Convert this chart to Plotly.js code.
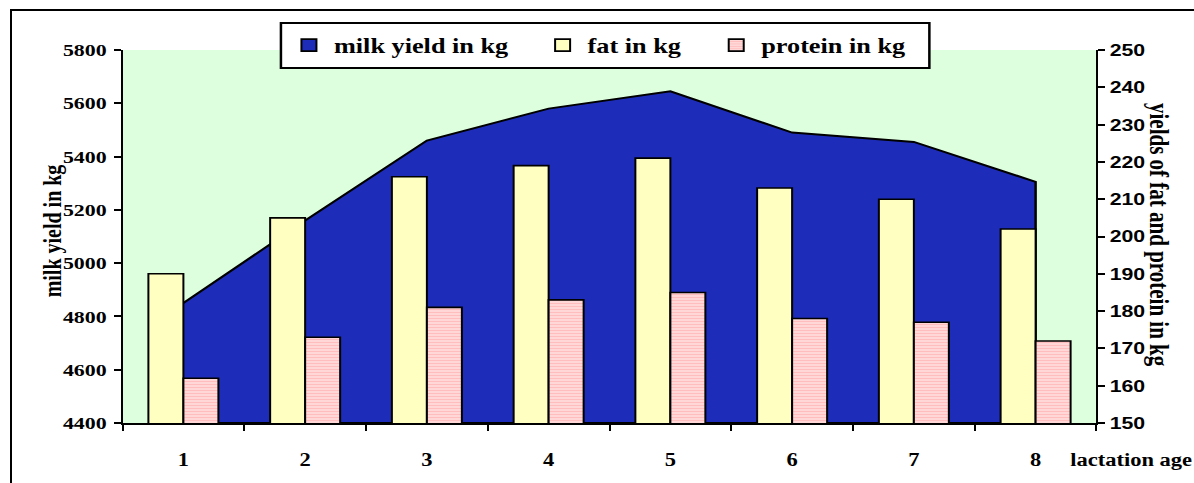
<!DOCTYPE html>
<html>
<head>
<meta charset="utf-8">
<script src="https://cdn.plot.ly/plotly-3.0.1.min.js"></script>
<style>
  html, body { margin: 0; padding: 0; background: #fff; overflow: hidden; width: 1194px; height: 483px; }
  #chart { position: absolute; left: 0; top: 0; width: 955px; height: 483px; transform: scaleX(1.250262); transform-origin: 0 0; }
  #frame { position: absolute; left: 10px; top: 9px; width: 1400px; height: 700px; border: 2px solid #000; pointer-events: none; z-index: 5; background: transparent; }
</style>
</head>
<body>
<div id="chart"></div>
<div id="frame"></div>
<script>
// ---- data ----
const categories = ['1', '2', '3', '4', '5', '6', '7', '8'];
const milkYield = [4850, 5160, 5460, 5580, 5645, 5490, 5455, 5305];
const fatYield = [190, 205, 216, 219, 221, 213, 210, 202];
const proteinYield = [162, 173, 181, 183, 185, 178, 177, 172];
const milkRange = [4400, 5800];
const fpRange = [150, 250];
const seriesNames = ['milk yield in kg', 'fat in kg', 'protein in kg'];
const leftTitle = 'milk yield in kg';
const rightTitle = 'yields of fat and protein in kg';
const xTitle = 'lactation age';

// ---- geometry (pre-stretch px) ----
const W = 955, H = 483;
const S = 1194 / W;
const plotL = 122.7 / S, plotR = 1096 / S;
const mT = 50, mB = 60;
const plotW = plotR - plotL, plotH = H - mT - mB;
const px = fx => (fx / S - plotL) / plotW;      // final-pixel x -> paper
const py = fy => (H - mB - fy) / plotH;          // pixel y -> paper

const serif = 'Liberation Serif, Times New Roman, serif';
const sans = 'Liberation Sans, Arial, sans-serif';
const BLUE = '#1e2db9', FAT = '#ffffc2', GREEN = '#ddffdd';

const traces = [
  { // milk yield area (outlined polygon down to axis floor)
    type: 'scatter', mode: 'lines',
    x: categories.concat([categories[categories.length - 1], categories[0]]),
    y: milkYield.concat([milkRange[0], milkRange[0]]),
    fill: 'toself', fillcolor: BLUE,
    line: { color: '#000', width: 2 },
    yaxis: 'y', showlegend: false, hoverinfo: 'skip'
  },
  { // legend key for milk yield (no drawn bar)
    type: 'bar', x: [categories[0]], y: [null], yaxis: 'y', name: seriesNames[0],
    marker: { color: BLUE, line: { color: '#000', width: 1.6 } },
    legend: 'legend', showlegend: true
  },
  {
    type: 'bar', x: categories, y: fatYield, yaxis: 'y2', name: seriesNames[1],
    marker: { color: FAT, line: { color: '#000', width: 1.6 } },
    legend: 'legend2'
  },
  {
    type: 'bar', x: categories, y: proteinYield, yaxis: 'y2', name: seriesNames[2],
    marker: { color: '#ffd6d6', line: { color: '#000', width: 1.6 },
      pattern: { shape: '-', bgcolor: '#ffdcdc', fgcolor: '#ff9e9e', size: 3, solidity: 0.45, fillmode: 'overlay' } },
    legend: 'legend3'
  }
];

const legFont = { family: serif, size: 21, weight: 700, color: '#000' };
const legBase = { orientation: 'h', xanchor: 'left', yanchor: 'middle', bgcolor: 'rgba(0,0,0,0)', borderwidth: 0, font: legFont, y: py(45.5) };
const titleFont = sz => ({ family: serif, size: sz, weight: 700, color: '#000' });

const layout = {
  width: W, height: H,
  margin: { l: plotL, r: W - plotR, t: mT, b: mB, autoexpand: false },
  paper_bgcolor: '#ffffff', plot_bgcolor: GREEN,
  barmode: 'group', bargap: 0.425, bargroupgap: 0,
  showlegend: true,
  legend: Object.assign({}, legBase, { x: px(318 - 34) }),
  legend2: Object.assign({}, legBase, { x: px(573.5 - 36) }),
  legend3: Object.assign({}, legBase, { x: px(745 - 34) }),
  xaxis: {
    type: 'category', range: [-0.5, categories.length - 0.5],
    tickson: 'boundaries', ticks: 'outside', ticklen: 6, tickwidth: 1.6, tickcolor: '#000',
    ticklabelstandoff: 19,
    tickfont: { family: serif, size: 18, weight: 700, color: '#000' },
    showline: true, linecolor: '#000', linewidth: 2, showgrid: false, zeroline: false, fixedrange: true
  },
  yaxis: {
    range: milkRange, dtick: 200, tick0: milkRange[0],
    ticks: 'outside', ticklen: 5.6, tickwidth: 2, tickcolor: '#000',
    tickfont: { family: serif, size: 17.5, weight: 700, color: '#000' },
    ticklabelstandoff: 2,
    showline: true, linecolor: '#000', linewidth: 1.6, showgrid: false, zeroline: false
  },
  yaxis2: {
    overlaying: 'y', side: 'right', anchor: 'x',
    range: fpRange, dtick: 10, tick0: fpRange[0],
    ticks: 'outside', ticklen: 5.6, tickwidth: 2, tickcolor: '#000',
    tickfont: { family: sans, size: 17, weight: 700, color: '#000' },
    ticklabelstandoff: 0,
    showline: true, linecolor: '#000', linewidth: 1.6, showgrid: false, zeroline: false
  },
  yaxis3: {
    overlaying: 'y', side: 'right', anchor: 'x',
    range: fpRange, dtick: 10, tick0: fpRange[0],
    ticks: 'inside', ticklen: 5.6, tickwidth: 2, tickcolor: '#000',
    showticklabels: false, showline: false, showgrid: false, zeroline: false
  },
  shapes: [
    { type: 'rect', xref: 'paper', yref: 'paper', layer: 'above',
      x0: px(281), x1: px(929), y0: py(68), y1: py(23),
      fillcolor: '#ffffff', line: { color: '#000', width: 2 } }
  ],
  annotations: [
    { text: xTitle, xref: 'paper', yref: 'paper', x: px(1130), y: py(460),
      xanchor: 'center', yanchor: 'middle', showarrow: false, font: titleFont(18) },
    { text: leftTitle, xref: 'paper', yref: 'paper', x: px(52), y: py(231),
      xanchor: 'center', yanchor: 'middle', showarrow: false, textangle: -90, font: titleFont(20) },
    { text: rightTitle, xref: 'paper', yref: 'paper', x: px(1158.5), y: py(235),
      xanchor: 'center', yanchor: 'middle', showarrow: false, textangle: 90, font: titleFont(21) }
  ]
};

Plotly.newPlot('chart', traces, layout, { staticPlot: true, displayModeBar: false });
</script>
</body>
</html>
